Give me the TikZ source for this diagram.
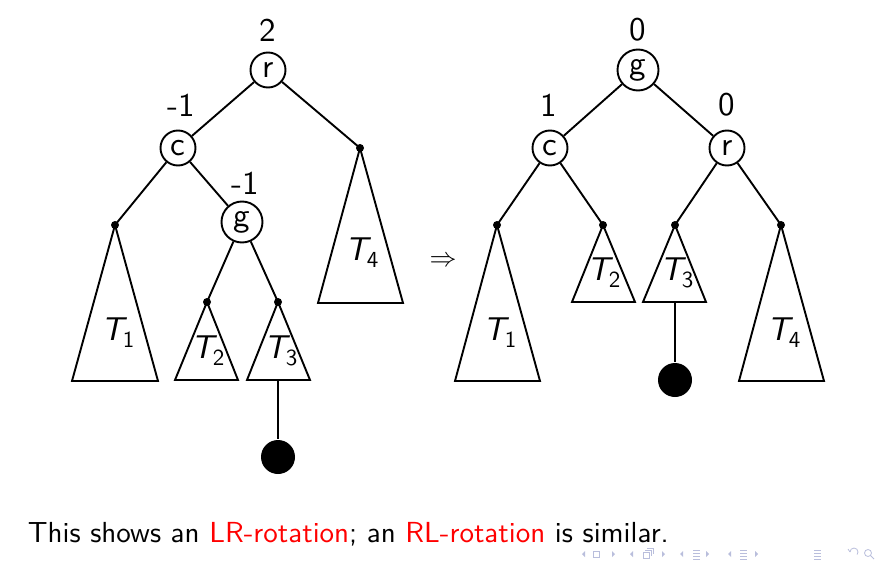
\documentclass[tikz,border=0pt]{standalone}
\usepackage{fontspec}
\setsansfont{lmsans10-regular.otf}[ItalicFont=lmsans10-oblique.otf]
\renewcommand\familydefault{\sfdefault}
\definecolor{navc}{RGB}{185,190,220}
\newcommand\TT[1]{{\itshape T}\kern-1pt\raisebox{-7pt}{\fontsize{23}{23}\selectfont #1}}
\begin{document}
\begin{tikzpicture}[x=1pt,y=-1pt,line width=1.9pt,
  tn/.style={circle,draw,minimum size=35pt,inner sep=0pt,font=\fontsize{33}{33}\selectfont},
  gn/.style={tn,minimum size=41pt},
  bal/.style={font=\fontsize{33}{33}\selectfont,inner sep=0pt},
  tlab/.style={font=\fontsize{33}{33}\selectfont,inner sep=0pt},
  dot/.style={circle,fill,inner sep=0pt,minimum size=8pt},
  leaf/.style={circle,fill,inner sep=0pt,minimum size=34pt},
  nav/.style={navc,line width=0.8pt}]
\useasboundingbox (0,0) rectangle (879,565);
% ---------- left tree ----------
\node[tn] (r1) at (268,70) {r};
\node[bal] (br1) at (268,30) {2};
\node[tn] (c1) at (178,148) {c};
\node[bal] (bc1) at (181,105) {-1};
\node[gn] (g1) at (242,222) {g};
\node[bal] (bg1) at (245,183) {-1};
\node[dot] (la1) at (115,225) {};
\node[dot] (la4) at (360,148) {};
\node[dot] (la2) at (207,302) {};
\node[dot] (la3) at (278,302) {};
\draw (r1) -- (c1);
\draw (r1) -- (la4.center);
\draw (c1) -- (la1.center);
\draw (c1) -- (g1);
\draw (g1) -- (la2.center);
\draw (g1) -- (la3.center);
\draw[line join=miter] (la1.center) -- (72,381) -- (158,381) -- cycle;
\draw[line join=miter] (la4.center) -- (318,303) -- (403,303) -- cycle;
\draw[line join=miter] (la2.center) -- (175,380) -- (238,380) -- cycle;
\draw[line join=miter] (la3.center) -- (247,380) -- (310,380) -- cycle;
\node[tlab] (tl1) at (118,333) {\TT{1}};
\node[tlab] (tl4) at (362,253) {\TT{4}};
\node[tlab] (tl2) at (208,351) {\TT{2}};
\node[tlab] (tl3) at (281,351) {\TT{3}};
\coordinate (b3l) at (278,380);
\node[leaf] (nl) at (278,457) {};
\draw (b3l) -- (nl);
% ---------- arrow ----------
\node (arr) at (443,262) {\resizebox{27pt}{!}{$\Rightarrow$}};
% ---------- right tree ----------
\node[gn] (g2) at (638,70) {g};
\node[bal] (bg2) at (638,30) {0};
\node[tn] (c2) at (550,148) {c};
\node[bal] (bc2) at (549,105) {1};
\node[tn] (r2) at (727,148) {r};
\node[bal] (br2) at (727,105) {0};
\node[dot] (rb1) at (497,225) {};
\node[dot] (rb2) at (603,225) {};
\node[dot] (rb3) at (675,225) {};
\node[dot] (rb4) at (781,225) {};
\draw (g2) -- (c2);
\draw (g2) -- (r2);
\draw (c2) -- (rb1.center);
\draw (c2) -- (rb2.center);
\draw (r2) -- (rb3.center);
\draw (r2) -- (rb4.center);
\draw[line join=miter] (rb1.center) -- (455,381) -- (540,381) -- cycle;
\draw[line join=miter] (rb2.center) -- (572,302) -- (635,302) -- cycle;
\draw[line join=miter] (rb3.center) -- (643,302) -- (706,302) -- cycle;
\draw[line join=miter] (rb4.center) -- (739,381) -- (824,381) -- cycle;
\node[tlab] (tr1) at (500,333) {\TT{1}};
\node[tlab] (tr2) at (604,273) {\TT{2}};
\node[tlab] (tr3) at (677,273) {\TT{3}};
\node[tlab] (tr4) at (784,333) {\TT{4}};
\coordinate (b3r) at (675,302);
\node[leaf] (nr) at (675,380) {};
\draw (b3r) -- (nr);
% ---------- caption ----------
\node[anchor=base west,inner sep=0pt,font=\fontsize{29}{29}\selectfont] (cap) at (27,542)
  {This shows an \textcolor{red}{LR-rotation}; an \textcolor{red}{RL-rotation} is similar.};
% ---------- navigation symbols ----------
\fill[navc] (585,551) -- (585,557) -- (582,554) -- cycle;
\draw[nav] (593,551) rectangle (599,557);
\fill[navc] (612,551) -- (612,557) -- (615,554) -- cycle;
\fill[navc] (633,551) -- (633,557) -- (630,554) -- cycle;
\draw[nav] (643,552) rectangle (649,558);
\draw[nav] (645,550) -- (651,550) -- (651,556);
\draw[nav] (647,548) -- (653,548) -- (653,554);
\fill[navc] (662,551) -- (662,557) -- (665,554) -- cycle;
\fill[navc] (683,551) -- (683,557) -- (680,554) -- cycle;
\draw[nav] (693,550) -- (700,550) (693,553) -- (700,553) (693,556) -- (700,556) (693,559) -- (700,559);
\fill[navc] (706,551) -- (706,557) -- (709,554) -- cycle;
\fill[navc] (731,551) -- (731,557) -- (728,554) -- cycle;
\draw[nav] (740,550) -- (747,550) (740,553) -- (747,553) (740,556) -- (747,556) (740,559) -- (747,559);
\fill[navc] (755,551) -- (755,557) -- (758,554) -- cycle;
\draw[nav] (814,550) -- (821,550) (814,553) -- (821,553) (814,556) -- (821,556) (814,559) -- (821,559);
\draw[nav] (850,552) arc (180:400:4);
\draw[nav] (850,552) -- (848,549);
\draw[nav] (868,553) circle (3.5pt);
\draw[nav] (870.5,555.5) -- (874,559);
\end{tikzpicture}
\end{document}
